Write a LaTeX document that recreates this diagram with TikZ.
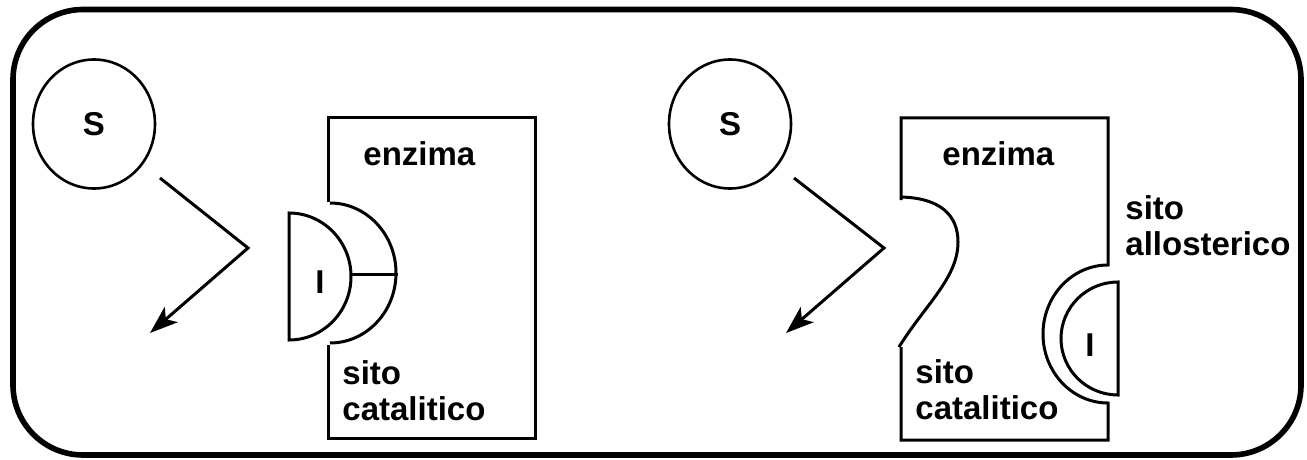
\documentclass[tikz,border=0pt]{standalone}
\usepackage{fontspec}
\setmainfont{Liberation Sans}
\usetikzlibrary{arrows.meta,shapes.geometric}
\begin{document}
\begin{tikzpicture}[x=0.5pt,y=-0.5pt,
  lbl/.style={font=\fontsize{16.5}{17.75}\selectfont\bfseries, inner sep=0pt, align=left},
  mol/.style={draw, line width=1.3pt, ellipse, minimum width=61pt, minimum height=64.5pt, inner sep=0pt, font=\fontsize{16.5}{17.75}\selectfont\bfseries},
  shapeline/.style={line width=1.5pt},
  conn/.style={line width=1.5pt, -{Stealth[length=14pt,width=10pt,inset=3.5pt]}}]
\useasboundingbox (0,0) rectangle (1307,460);
\draw[line width=2.8pt, rounded corners=35pt] (13,9.5) rectangle (1301,455);

% ---- left panel ----
\node[mol] (sL) at (94,124) {S};
\coordinate (aL1) at (160,178);
\coordinate (aL2) at (248,248);
\coordinate (aL3) at (150,333);
\draw[conn] (aL1) -- (aL2) -- (aL3);
\draw[shapeline] (328,202) -- (328,118) -- (535,118) -- (535,438) -- (328,438) -- (328,345);
\draw[shapeline] (330,203) arc[start angle=90, end angle=-90, x radius=33pt, y radius=35pt];
\draw[shapeline] (289,213) arc[start angle=90, end angle=-90, x radius=31pt, y radius=31.75pt] -- cycle;
\draw[shapeline] (351,274) -- (398,274);
\node[lbl] (iL) at (320,282) {I};
\node[lbl, anchor=base west] (enzL) at (363,165) {enzima};
\node[lbl, anchor=base west] (catL) at (342,420) {sito\\catalitico};

% ---- right panel ----
\node[mol] (sR) at (730,124) {S};
\coordinate (aR1) at (794,178);
\coordinate (aR2) at (884,248);
\coordinate (aR3) at (786,333);
\draw[conn] (aR1) -- (aR2) -- (aR3);
\draw[shapeline] (901,200) -- (901,118) -- (1108,118) -- (1108,265)
  arc[start angle=90, end angle=270, x radius=32.5pt, y radius=34.5pt]
  -- (1108,440) -- (901,440) -- (901,347);
\draw[shapeline] (901,197) .. controls (940,198) and (958,215) .. (958,242)
  .. controls (958,278) and (925,305) .. (899,347);
\draw[shapeline] (1118,282) arc[start angle=90, end angle=270, x radius=28.5pt, y radius=28.25pt] -- cycle;
\node[lbl] (iR) at (1090,345) {I};
\node[lbl, anchor=base west] (enzR) at (942,165) {enzima};
\node[lbl, anchor=base west] (allR) at (1125,255) {sito\\allosterico};
\node[lbl, anchor=base west] (catR) at (915,419) {sito\\catalitico};
\end{tikzpicture}
\end{document}
